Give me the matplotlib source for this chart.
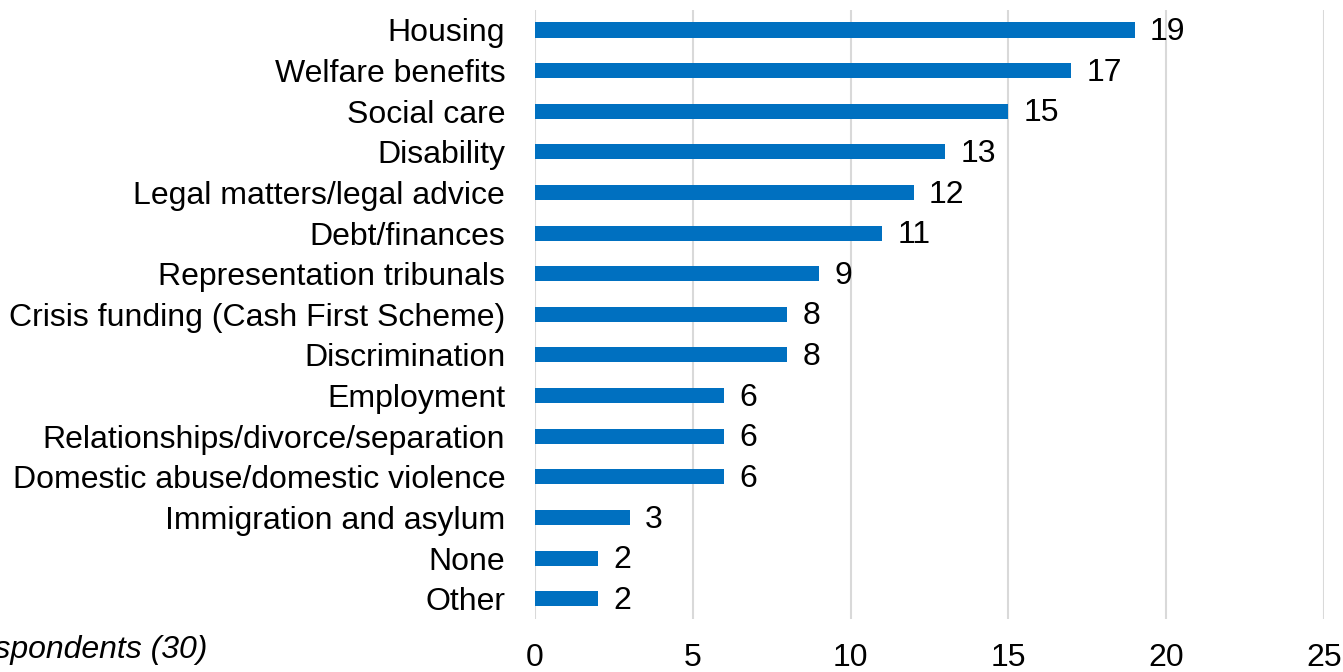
import matplotlib
matplotlib.use("Agg")
import matplotlib.pyplot as plt

plt.rcParams['font.family'] = ['Liberation Sans', 'DejaVu Sans']

categories = [
    "Housing",
    "Welfare benefits",
    "Social care",
    "Disability",
    "Legal matters/legal advice",
    "Debt/finances",
    "Representation tribunals",
    "Crisis funding (Cash First Scheme)",
    "Discrimination",
    "Employment",
    "Relationships/divorce/separation",
    "Domestic abuse/domestic violence",
    "Immigration and asylum",
    "None",
    "Other",
]
counts = [19, 17, 15, 13, 12, 11, 9, 8, 8, 6, 6, 6, 3, 2, 2]
x_ticks = [0, 5, 10, 15, 20, 25]
base_note = "Base: All respondents (30)"

BAR_COLOR = "#0070C0"
GRID_COLOR = "#D9D9D9"
FS = 23

fig = plt.figure(figsize=(13.43, 6.72), dpi=100)
ax = fig.add_axes([0.3984, 0.0789, 0.5874, 0.9067])

y = list(range(len(categories)))
ax.barh(y, counts, height=0.37, color=BAR_COLOR, zorder=3)
ax.set_ylim(len(categories) - 0.5, -0.5)
ax.set_xlim(0, 25)

ax.set_yticks(y)
ax.set_yticklabels(categories, fontsize=FS)
ax.set_xticks(x_ticks)
ax.set_xticklabels([str(t) for t in x_ticks], fontsize=FS)
ax.tick_params(axis='y', length=0, pad=21.5)
ax.tick_params(axis='x', length=0, pad=17)

ax.grid(axis='x', color=GRID_COLOR, linewidth=1.5, zorder=0)
for s in ax.spines.values():
    s.set_visible(False)

for yi, v in zip(y, counts):
    ax.annotate(str(v), (v, yi), xytext=(11, -1.5), textcoords='offset points',
                va='center', ha='left', fontsize=FS)

fig.text(207 / 1343, 1 - 650 / 672, base_note, ha='right', va='center',
         fontsize=FS, style='italic')

fig.savefig("out.png", dpi=100)
